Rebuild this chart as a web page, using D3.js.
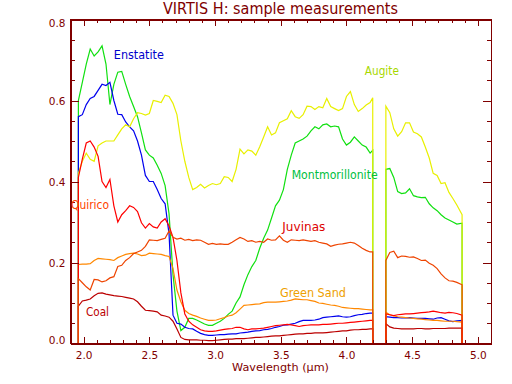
<!DOCTYPE html>
<html lang="en">
  <head>
    <meta charset="utf-8">
<style>
body { margin: 0; background: #fff; }

text {
    font-family: "DejaVu Sans", sans-serif;
}

.axis path, .axis line {
    stroke: #800000;
    fill: none;
    shape-rendering: crispEdges;
}

.axis text {
    font-size: 10.5px;
    fill: #800000;
}

.spectrum {
    fill: none;
    stroke-width: 1.2;
    stroke-linejoin: miter;
}
</style>
</head>
<body>
<script src="https://d3js.org/d3.v7.min.js"></script>
<svg id="chart" width="512" height="384"></svg>
<script>
// wavelength channels (um); the edges are repeated where the detector gives 0
var wavelength = [1.96,
  1.96,1.99,2.02,2.05,2.08,2.11,2.14,2.17,2.20,2.23,
  2.26,2.29,2.32,2.35,2.38,2.41,2.44,2.47,2.50,2.53,
  2.56,2.59,2.62,2.65,2.68,2.71,2.74,2.77,2.80,2.83,
  2.86,2.89,2.92,2.95,2.98,3.01,3.04,3.07,3.10,3.13,
  3.16,3.19,3.22,3.25,3.28,3.31,3.34,3.37,3.40,3.43,
  3.46,3.49,3.52,3.55,3.58,3.61,3.64,3.67,3.70,3.73,
  3.76,3.79,3.82,3.85,3.88,3.91,3.94,3.97,4.00,4.03,
  4.06,4.09,4.12,4.15,4.18,4.20,
  4.20, 4.30,
  4.30,4.33,4.36,4.39,4.42,4.45,4.48,4.51,4.54,4.57,
  4.60,4.63,4.66,4.69,4.72,4.75,4.78,4.81,4.84,4.88,
  4.88];

var montmorillonite = [0,
  0.60,0.645,0.69,0.727,0.71,0.72,0.735,0.69,0.59,0.64,
  0.67,0.672,0.64,0.61,0.585,0.56,0.52,0.478,0.465,0.458,
  0.44,0.42,0.39,0.32,0.17,0.08,0.032,0.04,0.062,0.062,
  0.058,0.053,0.048,0.045,0.045,0.05,0.055,0.062,0.072,0.08,
  0.10,0.115,0.145,0.17,0.19,0.205,0.235,0.26,0.28,0.31,
  0.34,0.354,0.38,0.43,0.465,0.495,0.50,0.505,0.512,0.525,
  0.535,0.53,0.54,0.542,0.535,0.537,0.535,0.505,0.49,0.497,
  0.51,0.50,0.49,0.485,0.47,0.477,
  0, 0,
  0.43,0.432,0.41,0.375,0.37,0.372,0.382,0.365,0.362,0.36,
  0.361,0.345,0.335,0.328,0.318,0.31,0.305,0.30,0.295,0.297,
  0];

var enstatite = [0,
  0.56,0.565,0.59,0.605,0.61,0.625,0.64,0.637,0.645,0.60,
  0.566,0.565,0.547,0.535,0.525,0.50,0.465,0.415,0.40,0.40,
  0.38,0.358,0.345,0.27,0.07,0.05,0.048,0.04,0.037,0.036,
  0.03,0.025,0.022,0.02,0.02,0.021,0.022,0.022,0.023,0.024,
  0.024,0.026,0.027,0.028,0.03,0.031,0.032,0.034,0.035,0.037,
  0.04,0.042,0.045,0.046,0.048,0.05,0.054,0.057,0.057,0.057,
  0.058,0.06,0.064,0.065,0.066,0.067,0.068,0.066,0.065,0.066,
  0.069,0.071,0.072,0.074,0.075,0.075,
  0, 0,
  0.066,0.065,0.064,0.064,0.063,0.063,0.064,0.063,0.062,0.062,
  0.062,0.061,0.06,0.063,0.064,0.06,0.056,0.054,0.056,0.057,
  0];

var augite = [0,
  0.42,0.45,0.47,0.455,0.45,0.488,0.495,0.50,0.50,0.50,
  0.515,0.53,0.54,0.535,0.555,0.57,0.568,0.564,0.568,0.60,
  0.598,0.595,0.613,0.61,0.593,0.565,0.50,0.45,0.41,0.38,
  0.385,0.393,0.384,0.39,0.395,0.392,0.395,0.412,0.41,0.40,
  0.43,0.48,0.468,0.478,0.475,0.465,0.486,0.51,0.535,0.515,
  0.52,0.545,0.55,0.555,0.575,0.56,0.556,0.565,0.586,0.585,
  0.578,0.585,0.582,0.605,0.585,0.58,0.575,0.58,0.61,0.622,
  0.59,0.573,0.58,0.589,0.595,0.607,
  0, 0,
  0.586,0.57,0.53,0.512,0.523,0.545,0.545,0.522,0.518,0.51,
  0.485,0.458,0.42,0.415,0.395,0.397,0.373,0.358,0.342,0.318,
  0];

var greenSand = [0,
  0.195,0.196,0.196,0.197,0.205,0.21,0.209,0.208,0.207,0.205,
  0.212,0.216,0.22,0.222,0.223,0.221,0.217,0.218,0.223,0.222,
  0.221,0.22,0.217,0.215,0.185,0.132,0.103,0.082,0.074,0.07,
  0.067,0.063,0.06,0.057,0.057,0.058,0.061,0.064,0.068,0.07,
  0.076,0.085,0.094,0.095,0.096,0.097,0.098,0.101,0.102,0.102,
  0.102,0.103,0.104,0.105,0.107,0.11,0.109,0.108,0.108,0.106,
  0.104,0.10,0.099,0.097,0.095,0.094,0.092,0.089,0.088,0.087,
  0.086,0.086,0.085,0.084,0.083,0.083,
  0, 0,
  0.077,0.071,0.068,0.066,0.065,0.064,0.063,0.062,0.061,0.06,
  0.059,0.058,0.057,0.057,0.056,0.055,0.055,0.055,0.054,0.053,
  0];

var coal = [0,
  0.092,0.105,0.107,0.11,0.118,0.124,0.125,0.122,0.12,0.118,
  0.117,0.116,0.114,0.112,0.11,0.103,0.092,0.082,0.081,0.08,
  0.078,0.07,0.068,0.065,0.055,0.036,0.015,0.01,0.009,0.009,
  0.009,0.008,0.008,0.007,0.007,0.008,0.009,0.01,0.011,0.011,
  0.012,0.012,0.012,0.013,0.014,0.015,0.015,0.016,0.017,0.018,
  0.019,0.019,0.02,0.021,0.022,0.023,0.024,0.024,0.025,0.025,
  0.026,0.026,0.026,0.027,0.028,0.029,0.03,0.031,0.031,0.033,
  0.034,0.034,0.035,0.035,0.036,0.036,
  0, 0,
  0.049,0.041,0.038,0.037,0.036,0.036,0.036,0.036,0.037,0.037,
  0.036,0.036,0.037,0.037,0.037,0.037,0.038,0.038,0.038,0.038,
  0];

var quirico = [0,
  0.41,0.455,0.495,0.50,0.485,0.462,0.40,0.385,0.405,0.34,
  0.30,0.318,0.328,0.34,0.336,0.326,0.298,0.285,0.296,0.288,
  0.285,0.30,0.308,0.29,0.262,0.205,0.125,0.073,0.055,0.046,
  0.04,0.034,0.031,0.03,0.03,0.031,0.033,0.035,0.036,0.037,
  0.04,0.04,0.036,0.034,0.036,0.036,0.037,0.038,0.04,0.042,
  0.044,0.045,0.046,0.047,0.046,0.044,0.042,0.044,0.045,0.046,
  0.046,0.046,0.047,0.047,0.048,0.049,0.05,0.05,0.051,0.052,
  0.053,0.054,0.055,0.056,0.057,0.057,
  0, 0,
  0.073,0.071,0.069,0.071,0.072,0.073,0.073,0.074,0.075,0.076,
  0.077,0.078,0.08,0.078,0.076,0.075,0.077,0.076,0.074,0.07,
  0];

var juvinas = [0,
  0.16,0.15,0.14,0.132,0.158,0.157,0.152,0.155,0.162,0.165,
  0.19,0.193,0.205,0.212,0.222,0.226,0.23,0.24,0.256,0.255,
  0.254,0.257,0.26,0.278,0.262,0.258,0.26,0.255,0.257,0.254,
  0.256,0.255,0.25,0.245,0.247,0.245,0.246,0.245,0.245,0.25,
  0.256,0.262,0.258,0.252,0.254,0.25,0.252,0.25,0.258,0.255,
  0.256,0.266,0.255,0.25,0.256,0.255,0.254,0.256,0.254,0.252,
  0.254,0.25,0.248,0.246,0.24,0.243,0.245,0.246,0.248,0.25,
  0.248,0.242,0.235,0.23,0.226,0.226,
  0, 0,
  0.205,0.225,0.228,0.212,0.216,0.215,0.213,0.214,0.21,0.205,
  0.206,0.198,0.193,0.185,0.172,0.162,0.155,0.154,0.151,0.145,
  0];

var xTickValues = [2.0, 2.5, 3.0, 3.5, 4.0, 4.5, 5.0];
var yTickValues = [0.0, 0.2, 0.4, 0.6, 0.8];

// drawing order, line colour, label colour
var series = [
  {name: "Montmorillonite", values: montmorillonite, color: "#10e010", labelColor: "#00c040"},
  {name: "Enstatite", values: enstatite, color: "#0000ee", labelColor: "#0000cc"},
  {name: "Augite", values: augite, color: "#e8f000", labelColor: "#a8d800"},
  {name: "Green Sand", values: greenSand, color: "#ff8800", labelColor: "#eea000"},
  {name: "Coal", values: coal, color: "#bb0000", labelColor: "#bb0000"},
  {name: "Quirico", values: quirico, color: "#ff0000", labelColor: "#ff4400"},
  {name: "Juvinas", values: juvinas, color: "#ee4400", labelColor: "#dd0000"}
];

// where the names are written, in data units
var labels = [
  {name: "Enstatite", w: 2.23, r: 0.703, len: 50},
  {name: "Augite", w: 4.14, r: 0.664, len: 34},
  {name: "Montmorillonite", w: 3.583, r: 0.405, len: 86},
  {name: "Juvinas", w: 3.512, r: 0.278, len: 43},
  {name: "Green Sand", w: 3.494, r: 0.115, len: 66},
  {name: "Quirico", w: 1.904, r: 0.333, len: 38},
  {name: "Coal", w: 2.018, r: 0.067, len: 23}
];

var svg = d3.select("#chart"),
    plotLeft = 70.5, plotRight = 491, plotTop = 19.5, plotBottom = 343.5;

var x = d3.scaleLinear().domain([1.9, 5.1]).range([plotLeft, plotRight]);
var y = d3.scaleLinear().domain([0, 0.8]).range([plotBottom, plotTop]);

var line = d3.line()
    .x(function(d) { return x(d[0]); })
    .y(function(d) { return y(d[1]); });

svg.selectAll(".spectrum")
    .data(series)
  .enter().append("path")
    .attr("class", "spectrum")
    .attr("stroke", function(d) { return d.color; })
    .attr("d", function(d) { return line(d3.zip(wavelength, d.values)); });

// axes: ticks point inward on all four sides
var fmt = d3.format(".1f");

svg.append("g").attr("class", "axis")
    .attr("transform", "translate(0," + plotBottom + ")")
    .call(d3.axisBottom(x).tickValues(x.ticks(32)).tickSize(-3.2).tickSizeOuter(0).tickFormat(""));
var xAxis = svg.append("g").attr("class", "axis")
    .attr("transform", "translate(0," + plotBottom + ")")
    .call(d3.axisBottom(x).tickValues(xTickValues).tickSize(-6.5).tickSizeOuter(0).tickPadding(8).tickFormat(fmt));
xAxis.selectAll("text").attr("dy", "0.71em");

svg.append("g").attr("class", "axis")
    .attr("transform", "translate(0," + plotTop + ")")
    .call(d3.axisTop(x).tickValues(x.ticks(32)).tickSize(-3.2).tickSizeOuter(0).tickFormat(""));
svg.append("g").attr("class", "axis")
    .attr("transform", "translate(0," + plotTop + ")")
    .call(d3.axisTop(x).tickValues(xTickValues).tickSize(-6.5).tickSizeOuter(0).tickFormat(""));

svg.append("g").attr("class", "axis")
    .attr("transform", "translate(" + plotLeft + ",0)")
    .call(d3.axisLeft(y).tickValues(y.ticks(16)).tickSize(-4.2).tickSizeOuter(0).tickFormat(""));
var yAxis = svg.append("g").attr("class", "axis")
    .attr("transform", "translate(" + plotLeft + ",0)")
    .call(d3.axisLeft(y).tickValues(yTickValues).tickSize(-8.4).tickSizeOuter(0).tickPadding(5).tickFormat(fmt));
yAxis.selectAll("text").attr("dy", function(d) {
  if (d === 0.8) return "7px";
  if (d === 0) return "0px";
  return "3.8px";
});

svg.append("g").attr("class", "axis")
    .attr("transform", "translate(" + plotRight + ",0)")
    .call(d3.axisRight(y).tickValues(y.ticks(16)).tickSize(-4.2).tickSizeOuter(0).tickFormat(""));
svg.append("g").attr("class", "axis")
    .attr("transform", "translate(" + plotRight + ",0)")
    .call(d3.axisRight(y).tickValues(yTickValues).tickSize(-8.4).tickSizeOuter(0).tickFormat(""));

// frame lines
svg.append("g").attr("class", "axis")
  .append("path")
    .attr("d", "M" + plotLeft + "," + plotTop + "V" + plotBottom + "H" + plotRight + "V" + plotTop + "Z");

svg.append("text")
    .attr("x", 280.5).attr("y", 14.3)
    .attr("text-anchor", "middle")
    .attr("textLength", 235).attr("lengthAdjust", "spacingAndGlyphs")
    .style("font-size", "15px").style("fill", "#800000")
    .text("VIRTIS H: sample measurements");

svg.append("text")
    .attr("x", 280.5).attr("y", 371)
    .attr("text-anchor", "middle")
    .attr("textLength", 97).attr("lengthAdjust", "spacingAndGlyphs")
    .style("font-size", "11px").style("fill", "#800000")
    .text("Wavelength (\u00b5m)");

var colorOf = {};
series.forEach(function(s) { colorOf[s.name] = s.labelColor; });

svg.selectAll(".label")
    .data(labels)
  .enter().append("text")
    .attr("class", "label")
    .attr("x", function(d) { return x(d.w); })
    .attr("y", function(d) { return y(d.r); })
    .attr("textLength", function(d) { return d.len; })
    .attr("lengthAdjust", "spacingAndGlyphs")
    .style("font-size", "12px")
    .style("fill", function(d) { return colorOf[d.name]; })
    .text(function(d) { return d.name; });
</script>
</body>
</html>
